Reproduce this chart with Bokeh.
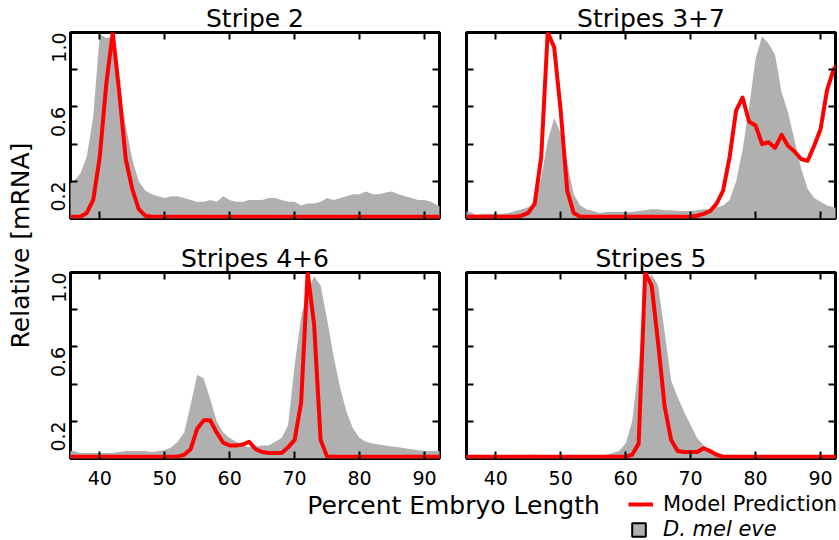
import math
from bokeh.plotting import figure
from bokeh.models import (Range1d, LinearAxis, FixedTicker, Label, Legend, LegendItem,
                          ColumnDataSource, PrintfTickFormatter)
from bokeh.layouts import row, column
from bokeh.embed import file_html
from bokeh.resources import INLINE

# ---------------- data ----------------
x_pct = list(range(35, 94))  # percent embryo length

titles = ["Stripe 2", "Stripes 3+7", "Stripes 4+6", "Stripes 5"]

gray_s2 = [0.18, 0.20, 0.24, 0.33, 0.55, 0.99, 0.97, 0.98, 0.70, 0.50,
           0.32, 0.20, 0.15, 0.13, 0.12, 0.11, 0.12, 0.12, 0.11, 0.10,
           0.09, 0.09, 0.10, 0.09, 0.12, 0.10, 0.09, 0.09, 0.10, 0.10,
           0.10, 0.11, 0.11, 0.10, 0.09, 0.09, 0.07, 0.08, 0.08, 0.09,
           0.11, 0.10, 0.11, 0.12, 0.13, 0.13, 0.145, 0.13, 0.13, 0.14,
           0.145, 0.13, 0.12, 0.11, 0.10, 0.10, 0.09, 0.07, 0.06]
red_s2 = [0.01, 0.01, 0.01, 0.03, 0.10, 0.33, 0.72, 1.00, 0.68, 0.32,
          0.16, 0.05, 0.015, 0.01, 0.01, 0.01, 0.01, 0.01, 0.01, 0.01,
          0.01, 0.01, 0.01, 0.01, 0.01, 0.01, 0.01, 0.01, 0.01, 0.01,
          0.01, 0.01, 0.01, 0.01, 0.01, 0.01, 0.01, 0.01, 0.01, 0.01,
          0.01, 0.01, 0.01, 0.01, 0.01, 0.01, 0.01, 0.01, 0.01, 0.01,
          0.01, 0.01, 0.01, 0.01, 0.01, 0.01, 0.01, 0.01, 0.01]

gray_s37 = [0.04, 0.035, 0.02, 0.025, 0.025, 0.025, 0.025, 0.03, 0.04, 0.05,
            0.06, 0.08, 0.22, 0.42, 0.54, 0.46, 0.30, 0.13, 0.07, 0.05,
            0.04, 0.03, 0.035, 0.035, 0.035, 0.035, 0.035, 0.04, 0.045, 0.05,
            0.05, 0.045, 0.045, 0.04, 0.04, 0.04, 0.045, 0.05, 0.05, 0.06,
            0.07, 0.10, 0.20, 0.37, 0.60, 0.86, 0.98, 0.94, 0.88, 0.68,
            0.57, 0.42, 0.27, 0.16, 0.11, 0.09, 0.07, 0.06, 0.05]
red_s37 = [0.01, 0.01, 0.01, 0.01, 0.01, 0.01, 0.01, 0.01, 0.01, 0.015,
           0.03, 0.08, 0.33, 1.00, 0.92, 0.58, 0.15, 0.03, 0.01, 0.01,
           0.01, 0.01, 0.01, 0.01, 0.01, 0.01, 0.01, 0.01, 0.01, 0.01,
           0.01, 0.01, 0.01, 0.01, 0.01, 0.01, 0.015, 0.025, 0.04, 0.08,
           0.15, 0.33, 0.58, 0.65, 0.52, 0.50, 0.40, 0.41, 0.38, 0.45,
           0.39, 0.36, 0.32, 0.31, 0.39, 0.48, 0.69, 0.80, 0.85]

gray_s46 = [0.04, 0.04, 0.03, 0.03, 0.03, 0.03, 0.03, 0.03, 0.035, 0.04,
            0.04, 0.04, 0.04, 0.035, 0.04, 0.045, 0.06, 0.09, 0.14, 0.29,
            0.45, 0.43, 0.32, 0.20, 0.14, 0.11, 0.09, 0.07, 0.06, 0.065,
            0.07, 0.07, 0.09, 0.11, 0.18, 0.50, 0.76, 0.90, 0.98, 0.93,
            0.75, 0.55, 0.38, 0.25, 0.16, 0.11, 0.09, 0.08, 0.075, 0.07,
            0.065, 0.06, 0.055, 0.05, 0.045, 0.04, 0.04, 0.04, 0.04]
red_s46 = [0.01, 0.01, 0.01, 0.01, 0.01, 0.01, 0.01, 0.01, 0.01, 0.01,
           0.01, 0.01, 0.01, 0.01, 0.01, 0.01, 0.01, 0.01, 0.02, 0.05,
           0.16, 0.205, 0.205, 0.14, 0.085, 0.07, 0.07, 0.075, 0.09, 0.05,
           0.035, 0.03, 0.03, 0.03, 0.06, 0.10, 0.30, 1.00, 0.72, 0.10,
           0.01, 0.01, 0.01, 0.01, 0.01, 0.01, 0.01, 0.01, 0.01, 0.01,
           0.01, 0.01, 0.01, 0.01, 0.01, 0.01, 0.01, 0.01, 0.01]

gray_s5 = [0.015, 0.015, 0.015, 0.015, 0.015, 0.015, 0.015, 0.015, 0.015, 0.015,
           0.02, 0.02, 0.015, 0.015, 0.015, 0.015, 0.015, 0.015, 0.015, 0.015,
           0.015, 0.015, 0.02, 0.03, 0.04, 0.08, 0.20, 0.50, 0.93, 0.99,
           0.93, 0.68, 0.42, 0.33, 0.25, 0.18, 0.11, 0.07, 0.04, 0.025,
           0.015, 0.01, 0.01, 0.01, 0.01, 0.01, 0.01, 0.01, 0.01, 0.01,
           0.01, 0.01, 0.01, 0.01, 0.01, 0.01, 0.01, 0.01, 0.01]
red_s5 = [0.01, 0.01, 0.01, 0.01, 0.01, 0.01, 0.01, 0.01, 0.01, 0.01,
          0.01, 0.01, 0.01, 0.01, 0.01, 0.01, 0.01, 0.01, 0.01, 0.01,
          0.01, 0.01, 0.01, 0.01, 0.01, 0.01, 0.02, 0.08, 1.00, 0.93,
          0.62, 0.28, 0.10, 0.04, 0.035, 0.035, 0.035, 0.055, 0.04, 0.02,
          0.01, 0.01, 0.01, 0.01, 0.01, 0.01, 0.01, 0.01, 0.01, 0.01,
          0.01, 0.01, 0.01, 0.01, 0.01, 0.01, 0.01, 0.01, 0.01]

x_ticks = [40, 50, 60, 70, 80, 90]
y_ticks_labeled = [0.2, 0.6, 1.0]
y_ticks_unlabeled = [0.4, 0.8]

series_gray = [gray_s2, gray_s37, gray_s46, gray_s5]
series_red = [red_s2, red_s37, red_s46, red_s5]

legend_labels = ["Model Prediction", "D. mel eve"]

# ---------------- style ----------------
FONT = "DejaVu Sans"
GRAY = "#b0b0b0"
RED = "#ff0000"
FRAME_W, FRAME_H = 369, 186
YLAB_W = 35


def style_axis(ax, show_labels, ticker):
    ax.ticker = ticker
    ax.axis_line_color = None
    ax.major_tick_in = 7
    ax.major_tick_out = 0
    ax.minor_tick_in = 7
    ax.minor_tick_out = 0
    ax.major_tick_line_width = 2
    ax.minor_tick_line_width = 2
    ax.major_tick_line_color = "black"
    ax.minor_tick_line_color = "black"
    ax.major_label_text_font = FONT
    if show_labels:
        ax.major_label_text_color = "black"
        ax.major_label_text_font_size = "19px"
        ax.major_label_standoff = 6
    else:
        ax.major_label_text_color = None
        ax.major_label_text_font_size = "1px"
        ax.major_label_standoff = 0


def make_panel(i, left_labels, bottom_labels, borders):
    bl, br, bt, bb = borders
    p = figure(frame_width=FRAME_W, frame_height=FRAME_H,
               x_range=Range1d(35.5, 92.3), y_range=Range1d(0, 1),
               toolbar_location=None, output_backend="svg",
               x_axis_location=None, y_axis_location=None,
               min_border_left=bl, min_border_right=br,
               min_border_top=bt, min_border_bottom=bb,
               title=titles[i])
    p.title.text_font = FONT
    p.title.text_font_size = "25px"
    p.title.text_font_style = "normal"
    p.title.text_color = "black"
    p.title.align = "center"
    p.title.standoff = 0
    p.outline_line_color = "black"
    p.outline_line_width = 3
    p.outline_line_alpha = 1
    p.background_fill_color = "white"
    p.border_fill_color = "white"
    p.grid.grid_line_color = None

    src = ColumnDataSource(data=dict(x=x_pct, g=series_gray[i], r=series_red[i]))
    p.varea(x="x", y1=0, y2="g", source=src, fill_color=GRAY, fill_alpha=1)
    p.line(x="x", y="r", source=src, line_color=RED, line_width=4, line_join="round")

    ax_b = LinearAxis()
    style_axis(ax_b, bottom_labels, FixedTicker(ticks=x_ticks))
    if bottom_labels:
        ax_b.major_label_standoff = 12
    p.add_layout(ax_b, "below")
    ax_t = LinearAxis()
    style_axis(ax_t, False, FixedTicker(ticks=x_ticks))
    p.add_layout(ax_t, "above")
    ax_l = LinearAxis()
    style_axis(ax_l, left_labels, FixedTicker(ticks=y_ticks_labeled, minor_ticks=y_ticks_unlabeled))
    ax_l.formatter = PrintfTickFormatter(format="%.1f")
    ax_l.major_label_orientation = math.pi / 2
    if left_labels:
        ax_l.major_label_standoff = 12
    p.add_layout(ax_l, "left")
    ax_r = LinearAxis()
    style_axis(ax_r, False, FixedTicker(ticks=y_ticks_labeled, minor_ticks=y_ticks_unlabeled))
    p.add_layout(ax_r, "right")
    return p


LB = 70 - YLAB_W
p1 = make_panel(0, True, False, (LB, 12, 32, 10))
p2 = make_panel(1, False, False, (15, 4, 32, 10))
p3 = make_panel(2, True, True, (LB, 12, 44, 34))
p4 = make_panel(3, False, True, (15, 4, 44, 34))

# y label column
YH = 540
ylab = figure(width=YLAB_W, height=YH, x_range=Range1d(0, YLAB_W), y_range=Range1d(0, YH),
              toolbar_location=None, output_backend="svg", min_border=0,
              x_axis_location=None, y_axis_location=None)
ylab.outline_line_color = None
ylab.grid.grid_line_color = None
ylab.add_layout(Label(x=20, y=YH - 245, text="Relative [mRNA]", angle=math.pi / 2,
                      text_align="center", text_baseline="middle",
                      text_font=FONT, text_font_size="25px", text_color="black"))

# footer with x label and legend
FTOP = 492
FH = 48
FX = YLAB_W
FW = 839 - YLAB_W
footer = figure(width=FW, height=FH, x_range=Range1d(0, FW), y_range=Range1d(0, FH),
                toolbar_location=None, output_backend="svg", min_border=0,
                x_axis_location=None, y_axis_location=None)
footer.outline_line_color = None
footer.grid.grid_line_color = None
footer.add_layout(Label(x=453 - FX, y=FH - (505 - FTOP), text="Percent Embryo Length",
                        text_align="center", text_baseline="middle",
                        text_font=FONT, text_font_size="25px", text_color="black"))

nan = float("nan")
legend_src = ColumnDataSource(data=dict(x=[nan], y=[nan]))
r_line = footer.line(x="x", y="y", source=legend_src, line_color=RED, line_width=4)
r_box = footer.quad(left="x", right="x", bottom="y", top="y", source=legend_src,
                    fill_color=GRAY, line_color="black", line_width=2)

leg1 = Legend(items=[LegendItem(label=legend_labels[0], renderers=[r_line])],
              location=(628 - FX, FH - (504 - FTOP) - 12), orientation="vertical")
leg2 = Legend(items=[LegendItem(label=legend_labels[1], renderers=[r_box])],
              location=(630 - FX, FH - (529 - FTOP) - 12), orientation="vertical")
for lg, gw, gh, so, st in ((leg1, 25, 20, 10, "normal"), (leg2, 17, 17, 16, "italic")):
    lg.glyph_width = gw
    lg.glyph_height = gh
    lg.label_standoff = so
    lg.padding = 0
    lg.margin = 0
    lg.spacing = 0
    lg.border_line_color = None
    lg.background_fill_alpha = 0
    lg.label_text_font = FONT
    lg.label_text_font_size = "21px"
    lg.label_text_font_style = st
    lg.label_text_color = "black"
    lg.label_text_baseline = "middle"
    footer.add_layout(lg, "center")

layout = row(ylab, column(row(p1, p2), row(p3, p4), footer))

open("out.html", "w").write(file_html(layout, INLINE))
